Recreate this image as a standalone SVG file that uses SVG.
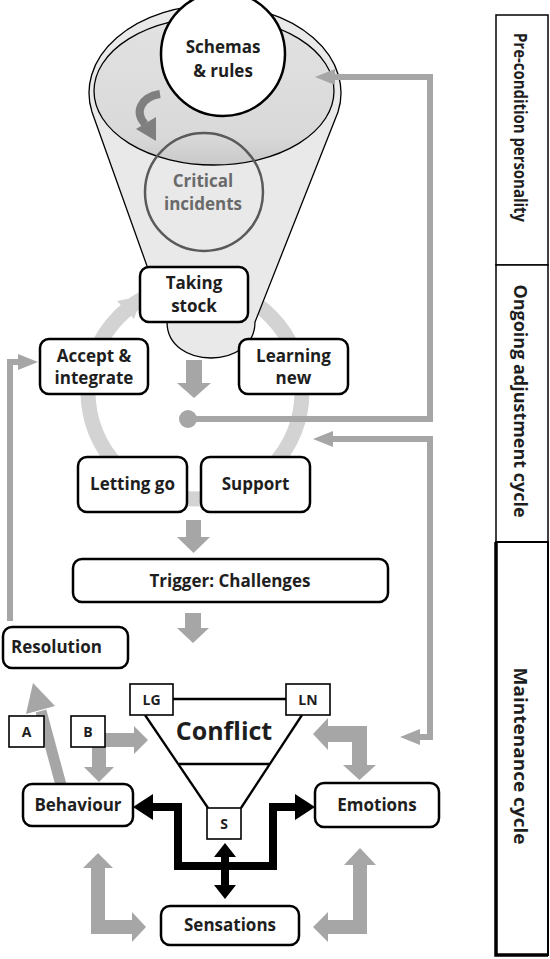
<svg xmlns="http://www.w3.org/2000/svg" width="550" height="959" viewBox="0 0 550 959">
<style>
.box{fill:#fff;stroke:#000;stroke-width:2.5}
.sbox{fill:#fff;stroke:#000;stroke-width:1.6}
.lbl{font-family:"Open Sans","DejaVu Sans",sans-serif;font-weight:700;font-size:17px;fill:#1e1e1e;text-anchor:middle}
.sm{font-size:14px}
.gfill{fill:#a6a6a6}
.gline{fill:none;stroke:#a6a6a6;stroke-width:6}
.bline{fill:none;stroke:#000;stroke-width:8}
.tri{stroke:#000;stroke-width:2.3;fill:none}
.side{font-family:"Open Sans","DejaVu Sans",sans-serif;font-weight:700;font-size:18px;fill:#1e1e1e;text-anchor:middle}
</style>
<defs>
<marker id="ga" viewBox="0 0 20 16" refX="8" refY="8" markerWidth="20" markerHeight="16" markerUnits="userSpaceOnUse" orient="auto-start-reverse"><path d="M0,0 L20,8 L0,16 Z" fill="#a6a6a6"/></marker>
<marker id="ba" viewBox="0 0 20 26" refX="2" refY="13" markerWidth="20" markerHeight="26" markerUnits="userSpaceOnUse" orient="auto-start-reverse"><path d="M0,0 L20,13 L0,26 Z" fill="#000"/></marker>
<marker id="bs" viewBox="0 0 14 22" refX="1" refY="11" markerWidth="14" markerHeight="22" markerUnits="userSpaceOnUse" orient="auto-start-reverse"><path d="M0,0 L14,11 L0,22 Z" fill="#000"/></marker>
<linearGradient id="inner" x1="0" y1="0" x2="0" y2="1"><stop offset="0" stop-color="#e2e2e2"/><stop offset="0.8" stop-color="#d9d9d9"/><stop offset="1" stop-color="#c9c9c9"/></linearGradient>
</defs>

<g id="cycle-ring">
<circle cx="195" cy="392" r="107" fill="none" stroke="#d3d3d3" stroke-width="15"/>
<polygon points="142,296 117,301 134,319" fill="#d3d3d3"/>
</g>

<g id="funnel">
<path d="M 92 112 A 126 88 0 1 1 338 112 L 255 322 C 255 370 167 370 167 322 Z" fill="#e9e9e9" stroke="#000" stroke-width="1.3"/>
<ellipse cx="214" cy="91" rx="120" ry="74" fill="url(#inner)" stroke="#000" stroke-width="1.3"/>
</g>

<g id="schemas">
<circle cx="223" cy="54" r="62" fill="#fff" stroke="#000" stroke-width="2.5"/>
<text class="lbl" x="223" y="53">Schemas</text>
<text class="lbl" x="223" y="77">&amp; rules</text>
</g>

<g id="critical">
<circle cx="204" cy="192" r="59" fill="none" stroke="#5a5a5a" stroke-width="2.5"/>
<text class="lbl" x="203" y="187" style="fill:#6a6a6a">Critical</text>
<text class="lbl" x="203" y="210" style="fill:#6a6a6a">incidents</text>
</g>

<g id="curved-arrow">
<path d="M 160 94 C 141 97 134 112 145 124" fill="none" stroke="#7f7f7f" stroke-width="8"/>
<polygon points="156,141 136,129 156,117" fill="#7f7f7f"/>
</g>

<g id="connectors">
<path class="gline" d="M 188 419 H 430 V 77 H 327" marker-end="url(#ga)"/>
<path class="gline" d="M 412 737 H 430 V 439 H 325" marker-start="url(#ga)" marker-end="url(#ga)"/>
<path class="gline" d="M 10 621 V 362 H 26" marker-end="url(#ga)"/>
<circle cx="188" cy="419" r="9" class="gfill"/>
<polygon class="gfill" points="186,360 202,360 202,383 211,383 194,398 177,383 186,383"/>
<polygon class="gfill" points="186,520 201,520 201,537 210,537 193.5,553 177,537 186,537"/>
<polygon class="gfill" points="185,613 201,613 201,628 209,628 193,643 177,628 185,628"/>
<line x1="61" y1="785" x2="41" y2="711" stroke="#a6a6a6" stroke-width="11"/>
<polygon class="gfill" points="33,683 55,706 26,714"/>
<polygon class="gfill" points="92,733 134,733 134,726 148,740 134,754 134,747 106,747 106,767 114,767 99,782 84,767 92,767"/>
<polygon class="gfill" points="313,734 328,718 328,726 367,726 367,765 376,765 359.5,780 343,765 352,765 352,742 328,742 328,750"/>
<polygon class="gfill" points="98,853 113,868 105,868 105,920 132,920 132,912 146,927 132,942 132,934 91,934 91,868 83,868"/>
<polygon class="gfill" points="360,848 376,865 367,865 367,934 328,934 328,942 313,927 328,912 328,920 353,920 353,865 344,865"/>
<path class="bline" d="M 151 807 H 178 V 866 H 273 V 807 H 297" marker-start="url(#ba)" marker-end="url(#ba)"/>
<path class="bline" d="M 225 856 V 886" marker-start="url(#bs)" marker-end="url(#bs)"/>
</g>

<g id="taking-stock"><rect class="box" x="140" y="267" width="108" height="55" rx="9"/><text class="lbl" x="194" y="289">Taking</text><text class="lbl" x="194" y="312">stock</text></g>
<g id="accept"><rect class="box" x="40" y="339" width="108" height="55" rx="9"/><text class="lbl" x="94" y="362">Accept &amp;</text><text class="lbl" x="94" y="384">integrate</text></g>
<g id="learning"><rect class="box" x="239" y="339" width="109" height="55" rx="9"/><text class="lbl" x="293.5" y="362">Learning</text><text class="lbl" x="293.5" y="384">new</text></g>
<g id="letting-go"><rect class="box" x="78" y="457" width="109" height="55" rx="9"/><text class="lbl" x="132.5" y="490">Letting go</text></g>
<g id="support"><rect class="box" x="201" y="457" width="109" height="55" rx="9"/><text class="lbl" x="255.5" y="490">Support</text></g>
<g id="trigger"><rect class="box" x="73" y="559" width="315" height="43" rx="9"/><text class="lbl" x="230" y="587">Trigger: Challenges</text></g>
<g id="resolution"><rect class="box" x="3" y="627" width="125" height="41" rx="9"/><text class="lbl" x="11" y="653" style="text-anchor:start">Resolution</text></g>

<g id="conflict">
<line class="tri" x1="173" y1="699" x2="286" y2="699"/>
<line class="tri" x1="145" y1="715" x2="208" y2="808"/>
<line class="tri" x1="302" y1="715" x2="241" y2="808"/>
<line class="tri" x1="179" y1="764" x2="270" y2="764"/>
<text class="lbl" x="224" y="740" style="font-size:25px">Conflict</text>
</g>
<g id="lg"><rect class="sbox" x="130" y="684" width="43" height="31"/><text class="lbl sm" x="151.5" y="705">LG</text></g>
<g id="ln"><rect class="sbox" x="286" y="684" width="44" height="31"/><text class="lbl sm" x="308" y="705">LN</text></g>
<g id="s"><rect class="sbox" x="207" y="808" width="34" height="31"/><text class="lbl sm" x="224" y="829">S</text></g>
<g id="a"><rect class="sbox" x="9" y="716" width="35" height="31"/><text class="lbl sm" x="26.5" y="737">A</text></g>
<g id="b"><rect class="sbox" x="71" y="716" width="34" height="31"/><text class="lbl sm" x="88" y="737">B</text></g>
<g id="behaviour"><rect class="box" x="23" y="784" width="110" height="42" rx="9"/><text class="lbl" x="78" y="811">Behaviour</text></g>
<g id="emotions"><rect class="box" x="315" y="783" width="124" height="44" rx="9"/><text class="lbl" x="377" y="811">Emotions</text></g>
<g id="sensations"><rect class="box" x="161" y="906" width="138" height="39" rx="9"/><text class="lbl" x="230" y="931">Sensations</text></g>

<g id="side-panel">
<rect x="496" y="15" width="52" height="250" fill="#fff" stroke="#000" stroke-width="1.5"/>
<rect x="496" y="265" width="52" height="277" fill="#fff" stroke="#000" stroke-width="1.5"/>
<rect x="496" y="542" width="52" height="413" fill="#fff" stroke="#000" stroke-width="2"/>
<path d="M 496 542 V 955 H 548" fill="none" stroke="#000" stroke-width="3.5"/>
<text class="side" transform="translate(514,127.5) rotate(90)" textLength="189" lengthAdjust="spacingAndGlyphs">Pre-condition personality</text>
<text class="side" transform="translate(514,401) rotate(90)" textLength="233" lengthAdjust="spacingAndGlyphs">Ongoing adjustment cycle</text>
<text class="side" transform="translate(514,756) rotate(90)" textLength="177" lengthAdjust="spacingAndGlyphs">Maintenance cycle</text>
</g>
</svg>
